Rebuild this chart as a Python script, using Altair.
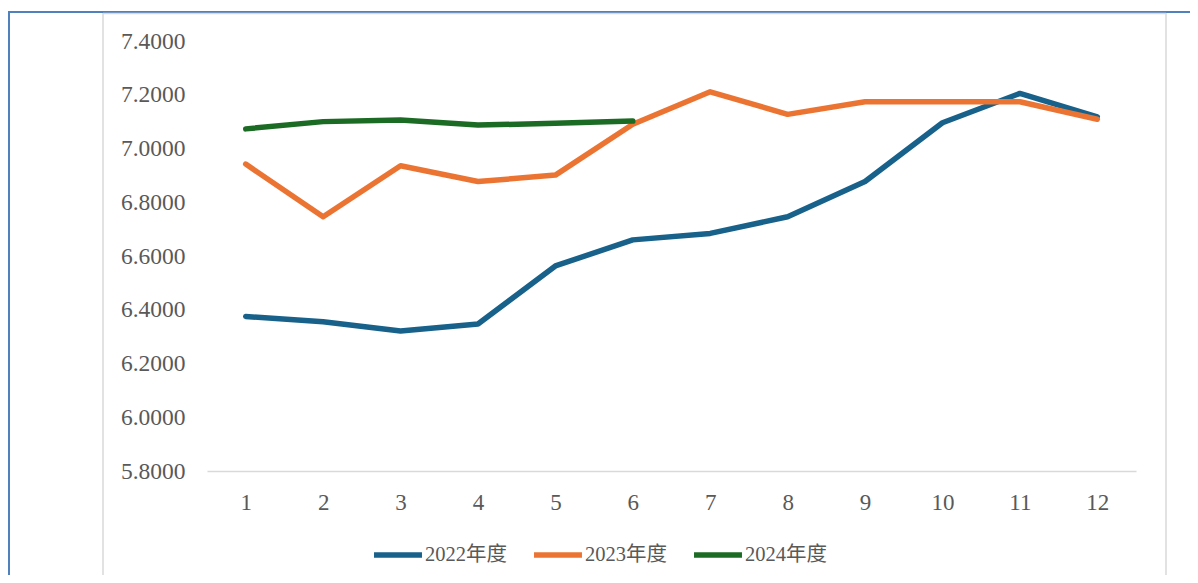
import altair as alt
import pandas as pd

months = [str(m) for m in range(1, 13)]
s2022 = [6.375, 6.355, 6.321, 6.347, 6.563, 6.660, 6.684, 6.746, 6.877, 7.096, 7.205, 7.118]
s2023 = [6.942, 6.746, 6.936, 6.877, 6.901, 7.090, 7.211, 7.127, 7.174, 7.174, 7.174, 7.109]
s2024 = [7.073, 7.100, 7.106, 7.087, 7.094, 7.102]
series_names = ["2022年度", "2023年度", "2024年度"]
colors = ["#17618a", "#eb7433", "#1c6b24"]
y_ticks = [5.8, 6.0, 6.2, 6.4, 6.6, 6.8, 7.0, 7.2, 7.4]

rows = []
for name, vals in zip(series_names, [s2022, s2023, s2024]):
    for m, v in zip(months, vals):
        rows.append({"month": m, "value": v, "series": name})
df = pd.DataFrame(rows)

FONT = "Liberation Serif, Times New Roman, Noto Sans CJK SC"
W, H = 929, 430

lines = alt.Chart(df).mark_line(strokeWidth=5.5, strokeCap="round", strokeJoin="round").encode(
    x=alt.X("month:O", sort=months, scale=alt.Scale(domain=months, padding=0.5),
            axis=alt.Axis(title=None, labelAngle=0, ticks=False, domainColor="#d9d9d9",
                          domainWidth=1.5, labelPadding=20, labelFont=FONT, labelFontSize=23,
                          labelColor="#595959", grid=False)),
    y=alt.Y("value:Q", scale=alt.Scale(domain=[5.8, 7.4], nice=False, zero=False),
            axis=alt.Axis(title=None, values=y_ticks, format=".4f", domain=False, ticks=False,
                          grid=False, labelPadding=22, labelFont=FONT, labelFontSize=23.5,
                          labelColor="#595959")),
    color=alt.Color("series:N", scale=alt.Scale(domain=series_names, range=colors),
                    legend=alt.Legend(title=None, orient="none", legendX=164, legendY=487,
                                      direction="horizontal", symbolType="stroke",
                                      symbolSize=2300, symbolStrokeWidth=5.5,
                                      labelFont=FONT, labelFontSize=20.5, labelColor="#595959",
                                      columnPadding=16, labelOffset=0)),
    detail="series:N",
)

one = pd.DataFrame({"a": [0]})
frame_top = alt.Chart(one).mark_rule(color="#4f81bd", strokeWidth=2).encode(
    x=alt.value(-199), x2=alt.value(990), y=alt.value(-29))
frame_left = alt.Chart(one).mark_rule(color="#4f81bd", strokeWidth=2).encode(
    x=alt.value(-198), y=alt.value(-29), y2=alt.value(560))
grey_top = alt.Chart(one).mark_rule(color="#d9d9d9", strokeWidth=1.5).encode(
    x=alt.value(-104), x2=alt.value(959), y=alt.value(-27.5))
grey_left = alt.Chart(one).mark_rule(color="#d9d9d9", strokeWidth=1.5).encode(
    x=alt.value(-104), y=alt.value(-28), y2=alt.value(560))
grey_right = alt.Chart(one).mark_rule(color="#d9d9d9", strokeWidth=1.5).encode(
    x=alt.value(959), y=alt.value(-28), y2=alt.value(560))

chart = alt.layer(frame_top, frame_left, grey_top, grey_left, grey_right, lines).properties(
    width=W, height=H,
    background="white",
    autosize=alt.AutoSizeParams(type="none"),
    padding={"left": 199, "top": 33, "right": 54, "bottom": 104},
).configure_view(strokeWidth=0, stroke="transparent")

chart.save("out.html", embed_options={"renderer": "svg", "actions": False})
